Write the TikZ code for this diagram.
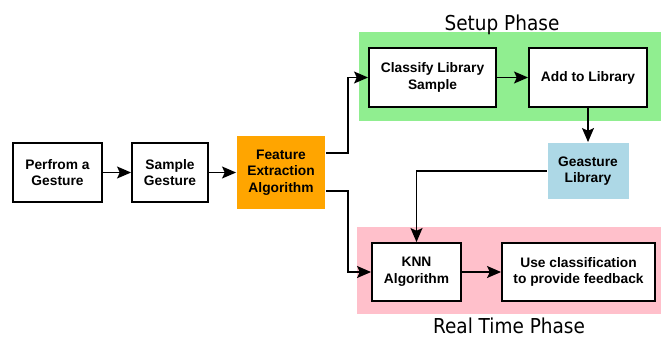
\documentclass[tikz,border=0pt]{standalone}
\usepackage{fontspec}
\setmainfont{Liberation Sans}
\newfontfamily\phasefont[FakeStretch=0.9]{DejaVu Sans}
\usetikzlibrary{positioning, calc, arrows.meta}

\definecolor{featorange}{HTML}{FFA500}
\definecolor{setupgreen}{HTML}{90EE90}
\definecolor{libblue}{HTML}{ADD8E6}
\definecolor{realpink}{HTML}{FFC0CB}

\begin{document}
\begin{tikzpicture}
    \tikzstyle{block}=[rectangle, draw=black, line width=1.3pt, fill=white, align=center, inner sep=0pt, font=\fontsize{9.8}{11.8}\selectfont\bfseries];
    \tikzstyle{phase}=[rectangle, inner sep=0pt];
    \tikzstyle{title}=[anchor=base, font=\phasefont\fontsize{14.6}{16}\selectfont];
    \tikzstyle{link}=[line width=1.3pt, -{Stealth[length=10pt, width=8.5pt, inset=2pt]}];

    \useasboundingbox (0, 0) rectangle (16.575, 8.475);

    % phase backgrounds
    \node[phase, fill=setupgreen, minimum width=7.55cm, minimum height=2.225cm] (setup) at (12.75, 6.5625) {};
    \node[phase, fill=realpink, minimum width=7.6cm, minimum height=2.175cm] (realtime) at (12.725, 1.7125) {};
    \node[title] (setuptitle) at (12.55, 7.725) {Setup Phase};
    \node[title] (realtitle) at (12.725, 0.15) {Real Time Phase};

    \node[block, minimum width=2.225cm, minimum height=1.475cm] (perform) at (1.4375, 4.1625) {Perfrom a\\Gesture};
    \node[block, minimum width=1.9cm, minimum height=1.475cm] (sample) at (4.25, 4.1625) {Sample\\Gesture};
    \node[block, draw=none, fill=featorange, minimum width=2.2cm, minimum height=1.825cm] (feature) at (7.025, 4.1625) {Feature\\Extraction\\Algorithm};

    \node[block, minimum width=3.175cm, minimum height=1.475cm] (classify) at (10.8125, 6.5375) {Classify Library\\Sample};
    \node[block, minimum width=2.95cm, minimum height=1.475cm] (addlib) at (14.7, 6.5375) {Add to Library};
    \node[block, draw=none, fill=libblue, minimum width=2.025cm, minimum height=1.4cm] (library) at (14.7, 4.2) {Geasture\\Library};

    \node[block, minimum width=2.225cm, minimum height=1.45cm] (knn) at (10.4125, 1.675) {KNN\\Algorithm};
    \node[block, minimum width=3.825cm, minimum height=1.45cm] (feedback) at (14.4625, 1.675) {Use classification\\to provide feedback};

    \draw[link] (perform) -- (sample);
    \draw[link] (sample) -- (feature);
    \draw[link] ([yshift=0.4875cm]feature.east) -- ++(0.55, 0) |- (classify);
    \draw[link] (classify) -- (addlib);
    \draw[link] (addlib) -- (library);
    \draw[link] (library) -| (knn);
    \draw[link] ([yshift=-0.4625cm]feature.east) -- ++(0.55, 0) |- (knn);
    \draw[link] (knn) -- (feedback);
\end{tikzpicture}
\end{document}
